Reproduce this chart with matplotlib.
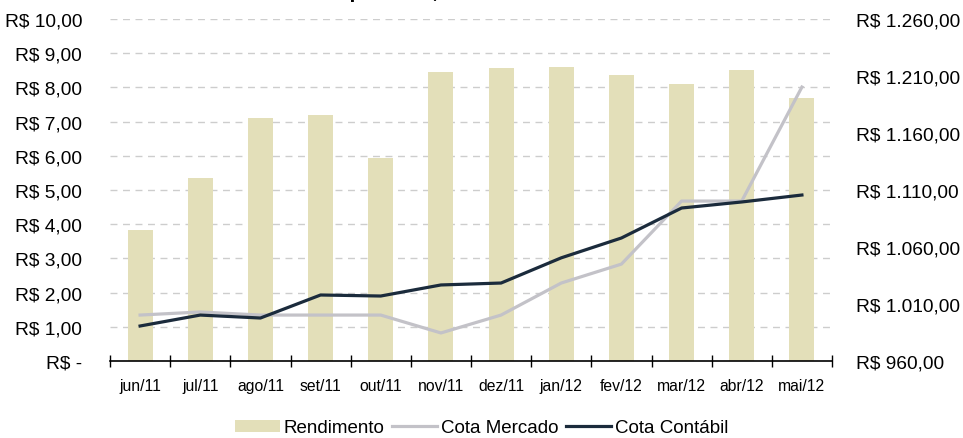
import numpy as np
import matplotlib.pyplot as plt
from matplotlib.ticker import FixedLocator

plt.rcParams['font.family'] = ['Liberation Sans', 'DejaVu Sans']

# Dados
meses = ["jun/11", "jul/11", "ago/11", "set/11", "out/11", "nov/11",
         "dez/11", "jan/12", "fev/12", "mar/12", "abr/12", "mai/12"]
rendimento = [3.83, 5.35, 7.10, 7.19, 5.94, 8.45, 8.57, 8.60, 8.36, 8.10, 8.50, 7.69]
cota_mercado = [1000.3, 1003.0, 1000.3, 1000.3, 1000.3, 984.6,
                1000.3, 1028.4, 1045.0, 1100.3, 1100.3, 1200.3]
cota_contabil = [990.7, 1000.3, 997.7, 1017.9, 1017.0, 1026.7,
                 1028.4, 1050.5, 1067.9, 1094.2, 1099.5, 1105.6]

left_ticks = list(range(0, 11))
left_labels = ["R$ -"] + [f"R$ {v},00" for v in range(1, 11)]
right_ticks = list(range(960, 1261, 50))
right_labels = [f"R$ {v:,}".replace(",", ".") + ",00" for v in right_ticks]

c_bar = "#E3DFB9"
c_merc = "#C3C2C8"
c_cont = "#1B2B3C"
c_grid = "#CDCDCD"

fig = plt.figure(figsize=(9.63, 4.39), dpi=100)
ax = fig.add_axes([110 / 963, 77 / 439, 722 / 963, 342 / 439])
ax2 = ax.twinx()

x = np.arange(len(meses))
b = ax.bar(x, rendimento, width=0.415, color=c_bar, label="Rendimento", zorder=2)
l1, = ax2.plot(x, cota_mercado, color=c_merc, lw=2.3, label="Cota Mercado")
l2, = ax2.plot(x, cota_contabil, color=c_cont, lw=2.3, label="Cota Contábil")

ax.set_xlim(-0.5, len(meses) - 0.5)
ax.set_ylim(0, 10)
ax2.set_ylim(960, 1260)

ax.set_yticks(left_ticks)
ax.set_yticklabels(left_labels)
ax2.set_yticks(right_ticks)
ax2.set_yticklabels(right_labels)
ax.tick_params(axis='y', length=0, pad=20, labelsize=13.8)
ax2.tick_params(axis='y', length=0, pad=17, labelsize=13.8)

ax.set_xticks(x)
ax.set_xticklabels(meses)
ax.xaxis.set_minor_locator(FixedLocator(np.arange(-0.5, len(meses), 1.0)))
ax.tick_params(axis='x', which='major', length=0, pad=12, labelsize=11.3)
ax.tick_params(axis='x', which='minor', direction='inout', length=8, width=1)

for a in (ax, ax2):
    for s in ("top", "left", "right"):
        a.spines[s].set_visible(False)
ax2.spines["bottom"].set_visible(False)
ax.spines["bottom"].set_linewidth(1.2)

ax.set_axisbelow(True)
ax.yaxis.grid(True, color=c_grid, linestyle=(0, (5, 4)), lw=1)
ax.set_zorder(0)
ax2.set_zorder(1)
ax2.patch.set_visible(False)

# título cortado no topo da imagem (como na referência)
fig.text(223 / 963, 1 + 1.5 / 439, "Rendimento por cota, Cota Mercado e Cota Contábil",
         fontsize=15, fontweight='bold', ha='left', va='baseline')

fig.legend([b, l1, l2], ["Rendimento", "Cota Mercado", "Cota Contábil"],
           loc='lower center', bbox_to_anchor=(0.5, -0.035), ncol=3, frameon=False,
           fontsize=13.5, handlelength=2.4, handleheight=0.6, handletextpad=0.2,
           columnspacing=0.4)

fig.savefig("out.png", dpi=100)
